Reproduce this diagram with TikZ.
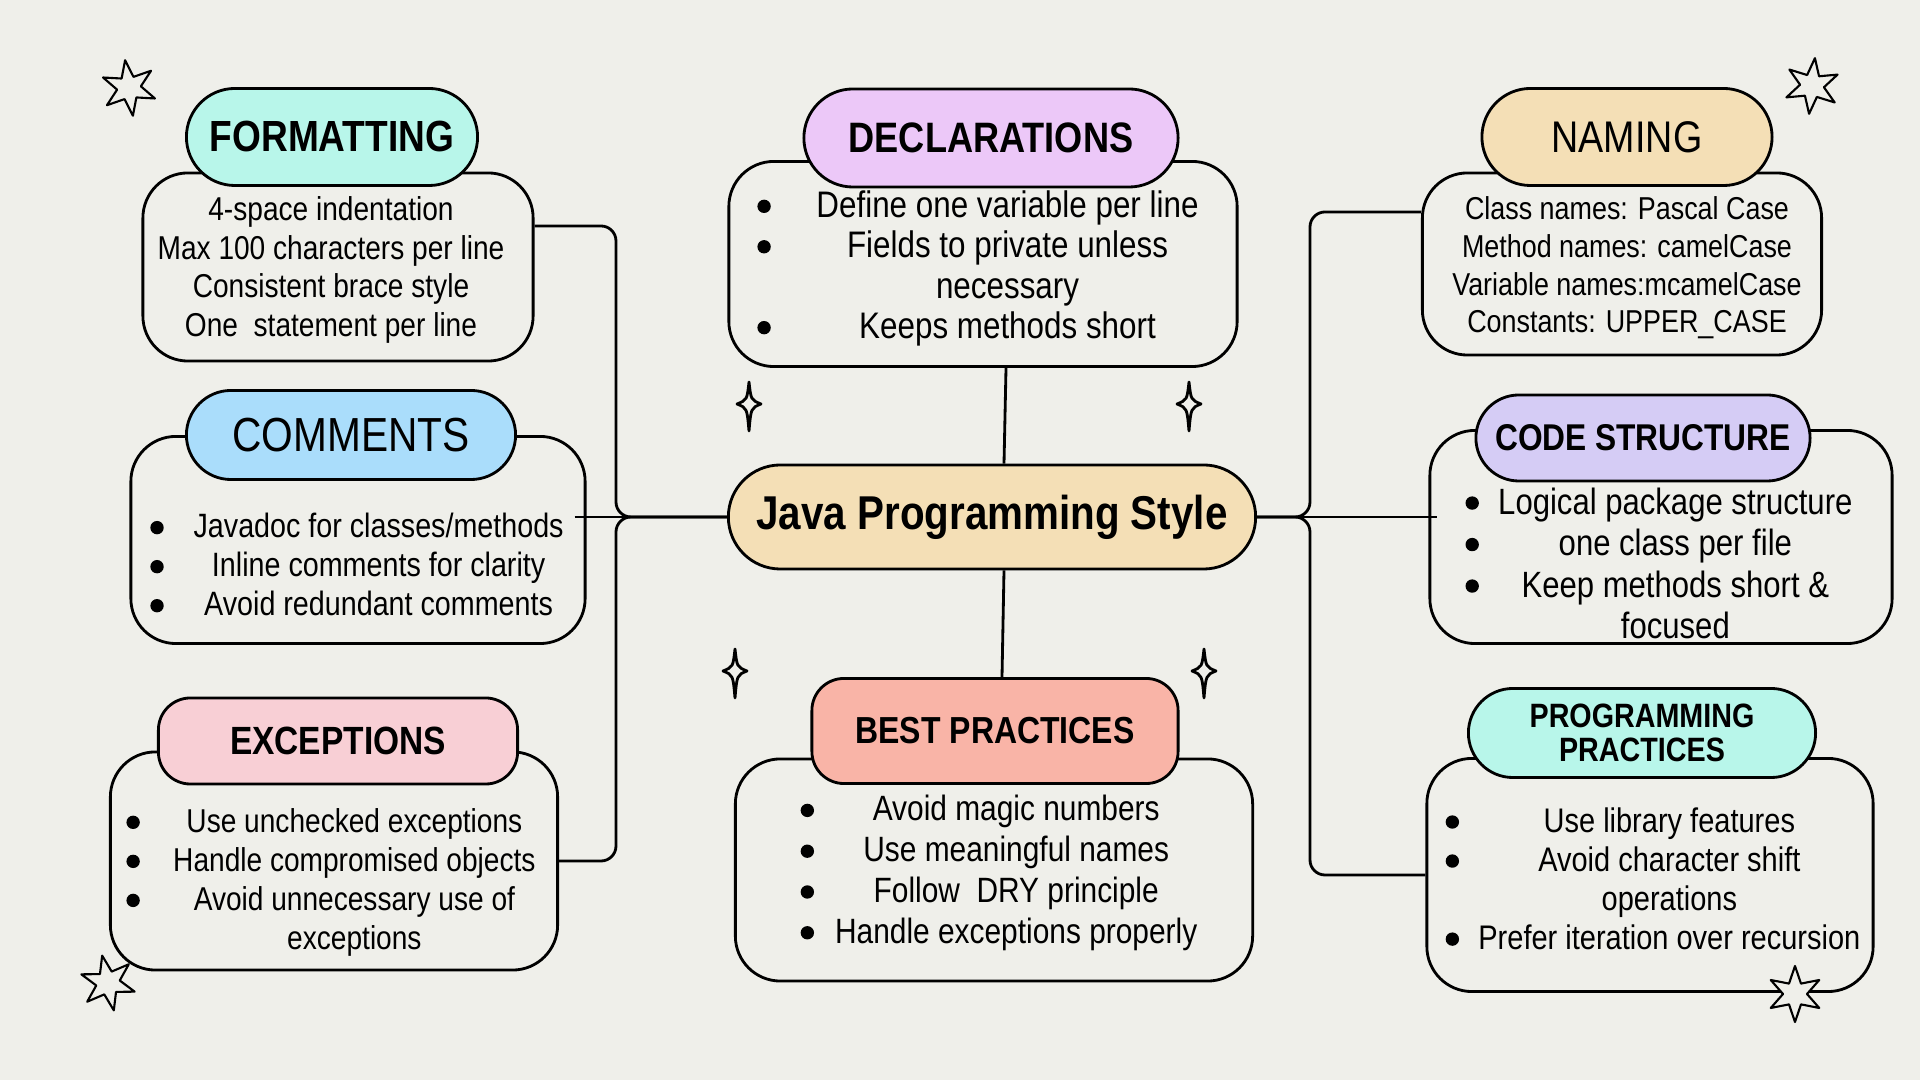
\documentclass[tikz,border=0pt]{standalone}
\usepackage{fontspec}
\setmainfont{Liberation Sans}[FakeStretch=0.85]
\usetikzlibrary{calc,shapes.misc}
\definecolor{bg}{HTML}{EFEFEA}
\definecolor{mint}{HTML}{B8F6EA}
\definecolor{lilac}{HTML}{ECC8F8}
\definecolor{sand}{HTML}{F4DFB6}
\definecolor{sky}{HTML}{AADDFB}
\definecolor{lavender}{HTML}{D5CCF5}
\definecolor{rose}{HTML}{F8CFD5}
\definecolor{salmon}{HTML}{F9B4A7}
\newcommand{\blt}{\tikz[baseline=-0.3em]\fill (0,0) circle (1.9pt);}
\tikzset{
    pill/.style = {
        rounded rectangle,
        draw,
        line width = 0.8pt,
        inner sep = 0pt,
        },
    tab pill/.style = {
        rectangle,
        rounded corners = 0.32cm,
        draw,
        line width = 0.8pt,
        inner sep = 0pt,
        },
    card/.style = {
        draw,
        line width = 0.8pt,
        rounded corners = 0.45cm,
        fill = bg,
        },
    link/.style = {
        line width = 0.8pt,
        rounded corners = 0.15cm,
        },
    sparkle/.pic = {
        \draw[line width=0.8pt, line join=round]
            (0,-22) .. controls (2,-4) .. (12,0) .. controls (2,4) .. (0,27)
            .. controls (-2,4) .. (-12,0) .. controls (-2,-4) .. (0,-22) -- cycle;
        },
    twinkle/.pic = {
        \filldraw[fill=bg, line width=0.6pt, line join=round]
            (90:28) \foreach \k in {1,...,11} { -- ({90+30*\k}:{ifthenelse(isodd(\k),12,28)}) } -- cycle;
        },
}

\begin{document}
\begin{tikzpicture}[x=0.01cm, y=-0.01cm]
    \useasboundingbox (0,0) rectangle (1920,1080);
    \fill[bg] (0,0) rectangle (1920,1080);

    % cards
    \node[card, minimum width=3.9cm, minimum height=1.88cm] (fmt-box) at (338,267) {};
    \node[card, minimum width=5.08cm, minimum height=2.05cm] (decl-box) at (983,264) {};
    \node[card, minimum width=3.99cm, minimum height=1.82cm] (nam-box) at (1622,264) {};
    \node[card, minimum width=4.54cm, minimum height=2.07cm] (cmt-box) at (358,540) {};
    \node[card, minimum width=4.62cm, minimum height=2.13cm] (code-box) at (1661,537) {};
    \node[card, minimum width=4.47cm, minimum height=2.18cm] (exc-box) at (334,861) {};
    \node[card, minimum width=5.17cm, minimum height=2.22cm] (best-box) at (994,870) {};
    \node[card, minimum width=4.46cm, minimum height=2.33cm] (prog-box) at (1650,875) {};

    % card texts
    \node[align=center, font=\fontsize{9.4}{11}\selectfont] (fmt-txt) at (331,270)
        {4-space indentation\\Max 100 characters per line\\Consistent brace style\\One\ \ statement per line};
    \node[font=\fontsize{10.5}{11.5}\selectfont] (decl-txt) at (978,270)
        {\begin{tabular}{@{}c@{\hspace{13pt}}c@{}}
        \blt & Define one variable per line\\
        \blt & Fields to private unless\\
             & necessary\\
        \blt & Keeps methods short
        \end{tabular}};
    \node[align=center, font=\fontsize{9}{10.7}\selectfont] (nam-txt) at (1627,268)
        {Class names: Pascal Case\\Method names: camelCase\\Variable names:mcamelCase\\Constants: UPPER\_CASE};
    \node[font=\fontsize{9.6}{11.1}\selectfont] (cmt-txt) at (357,569)
        {\begin{tabular}{@{}c@{\hspace{8.5pt}}c@{}}
        \blt & Javadoc for classes/methods\\
        \blt & Inline comments for clarity\\
        \blt & Avoid redundant comments
        \end{tabular}};
    \node[font=\fontsize{10.4}{11.8}\selectfont] (code-txt) at (1659,568)
        {\begin{tabular}{@{}c@{\hspace{5.5pt}}c@{}}
        \blt & Logical package structure\\
        \blt & one class per file\\
        \blt & Keep methods short \&\\
             & focused
        \end{tabular}};
    \node[font=\fontsize{9.4}{11.1}\selectfont] (exc-txt) at (331,883)
        {\begin{tabular}{@{}c@{\hspace{9.5pt}}c@{}}
        \blt & Use unchecked exceptions\\
        \blt & Handle compromised objects\\
        \blt & Avoid unnecessary use of\\
             & exceptions
        \end{tabular}};
    \node[font=\fontsize{10}{11.6}\selectfont] (best-txt) at (999,874)
        {\begin{tabular}{@{}c@{\hspace{6pt}}c@{}}
        \blt & Avoid magic numbers\\
        \blt & Use meaningful names\\
        \blt & Follow\ \ DRY principle\\
        \blt & Handle exceptions properly
        \end{tabular}};
    \node[font=\fontsize{9.7}{11.1}\selectfont] (prog-txt) at (1653,883)
        {\begin{tabular}{@{}c@{\hspace{5.5pt}}c@{}}
        \blt & Use library features\\
        \blt & Avoid character shift\\
             & operations\\
        \blt & Prefer iteration over recursion
        \end{tabular}};

    % center
    \node[pill, fill=sand, minimum width=5.27cm, minimum height=1.04cm,
          font=\bfseries\fontsize{13.5}{16}\selectfont] (core) at (992,517) {Java Programming Style};

    % connectors
    \coordinate (lbus) at (616,517);
    \coordinate (rbus) at (1310,517);
    \draw[link] ([yshift=0.41cm]fmt-box.east) -| (lbus) -- (core.west);
    \draw[link] (exc-box.east) -| (lbus) -- (core.west);
    \draw[link] ($(core.west -| cmt-box.east)+(-12,0)$) -- (core.west);
    \draw[link] ([yshift=0.52cm]nam-box.west) -| (rbus) -- (core.east);
    \draw[link] (prog-box.west) -| (rbus) -- (core.east);
    \draw[link] (core.east) -- ($(core.east -| code-box.west)+(9,0)$);
    \draw[link] ([xshift=0.23cm]decl-box.south) -- ([xshift=0.12cm]core.north);

    % titles
    \node[pill, fill=mint, minimum width=2.91cm, minimum height=0.97cm,
          font=\bfseries\fontsize{12.4}{14}\selectfont] (fmt-pill) at (332,137) {FORMATTING};
    \node[pill, fill=lilac, minimum width=3.74cm, minimum height=0.98cm,
          font=\bfseries\fontsize{12.1}{14}\selectfont] (decl-pill) at (991,138) {DECLARATIONS};
    \node[pill, fill=sand, minimum width=2.90cm, minimum height=0.97cm,
          font=\fontsize{12.6}{14}\selectfont] (nam-pill) at (1627,137) {NAMING};
    \node[pill, fill=sky, minimum width=3.29cm, minimum height=0.89cm,
          font=\fontsize{13.6}{15}\selectfont] (cmt-pill) at (351,435) {COMMENTS};
    \node[pill, fill=lavender, minimum width=3.34cm, minimum height=0.86cm,
          font=\bfseries\fontsize{10.6}{12}\selectfont] (code-pill) at (1643,438) {CODE STRUCTURE};
    \node[tab pill, fill=rose, minimum width=3.59cm, minimum height=0.86cm,
          font=\bfseries\fontsize{11.2}{13}\selectfont] (exc-pill) at (338,741) {EXCEPTIONS};
    \node[tab pill, fill=salmon, minimum width=3.66cm, minimum height=1.05cm,
          font=\bfseries\fontsize{10.7}{12}\selectfont] (best-pill) at (995,731) {BEST PRACTICES};
    \node[pill, fill=mint, minimum width=3.47cm, minimum height=0.89cm, align=center,
          font=\bfseries\fontsize{9.6}{9.8}\selectfont] (prog-pill) at (1642,733) {PROGRAMMING\\PRACTICES};

    \draw[link] ([xshift=0.12cm]core.south) -- ([xshift=0.07cm]best-pill.north);

    % decorations
    \pic at (749,404) {sparkle};
    \pic at (1189,404) {sparkle};
    \pic at (735,671) {sparkle};
    \pic at (1204,671) {sparkle};
    \pic[rotate=8] at (129,88) {twinkle};
    \pic[rotate=-6] at (1812,86) {twinkle};
    \pic[rotate=12] at (108,983) {twinkle};
    \pic[rotate=0] at (1795,994) {twinkle};
\end{tikzpicture}
\end{document}
